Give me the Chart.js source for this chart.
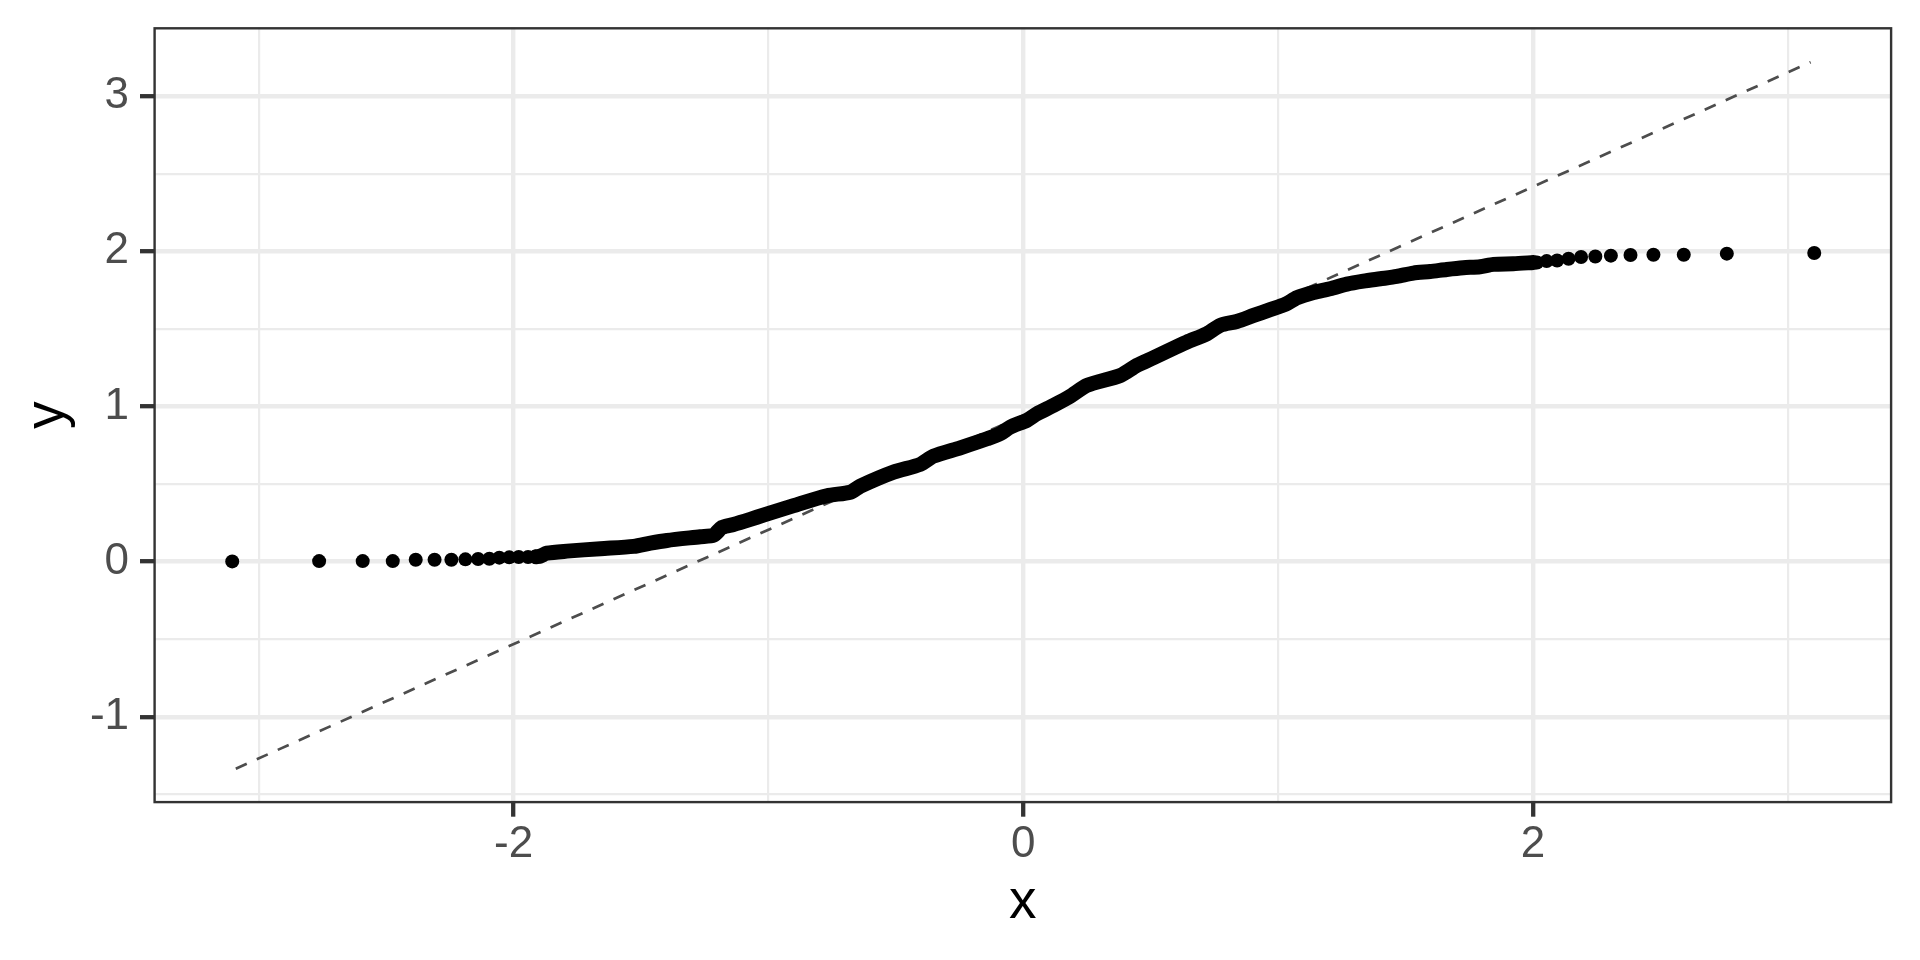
<!DOCTYPE html>
<html>
<head>
<meta charset="utf-8">
<script src="https://cdn.jsdelivr.net/npm/chart.js@4/dist/chart.umd.min.js"></script>
<style>
  html, body { margin: 0; padding: 0; background: #fff; }
  #wrap { width: 1920px; height: 960px; position: relative; }
</style>
</head>
<body>
<div id="wrap"><canvas id="qq"></canvas></div>
<script>
// === DATA ===
// lower tail: single dots
const lowTailX = [-3.104, -2.763, -2.592, -2.474, -2.384, -2.310, -2.244, -2.189, -2.139, -2.095, -2.056, -2.017, -1.980, -1.943, -1.912];
const lowTailY = [0.002, 0.004, 0.004, 0.004, 0.013, 0.013, 0.013, 0.015, 0.017, 0.019, 0.026, 0.028, 0.030, 0.030, 0.032];

// dense middle part, where the dots merge into one band
const bandX = [-1.912, -1.895, -1.869, -1.790, -1.659, -1.529, -1.463, -1.398, -1.267, -1.215, -1.182, -1.137, -1.071, -1.020,
  -0.901, -0.770, -0.679, -0.639, -0.509, -0.404, -0.352, -0.247, -0.142, -0.090, -0.051, 0.015, 0.054, 0.119, 0.184, 0.250,
  0.381, 0.446, 0.511, 0.577, 0.642, 0.721, 0.773, 0.838, 0.904, 0.969, 1.030, 1.074, 1.139, 1.204, 1.270, 1.335, 1.401,
  1.466, 1.531, 1.597, 1.662, 1.727, 1.793, 1.845, 1.923, 2.002];
const bandY = [0.032, 0.036, 0.055, 0.068, 0.084, 0.099, 0.120, 0.137, 0.161, 0.171, 0.221, 0.240, 0.273, 0.300,
  0.361, 0.425, 0.448, 0.487, 0.577, 0.627, 0.680, 0.734, 0.792, 0.825, 0.867, 0.912, 0.953, 1.007, 1.065, 1.136,
  1.200, 1.265, 1.314, 1.366, 1.415, 1.469, 1.523, 1.548, 1.587, 1.624, 1.660, 1.701, 1.735, 1.759, 1.789, 1.808, 1.823,
  1.838, 1.860, 1.870, 1.883, 1.894, 1.901, 1.916, 1.920, 1.928];

// upper tail: single dots
const highTailX = [2.016, 2.054, 2.095, 2.140, 2.189, 2.245, 2.306, 2.383, 2.473, 2.592, 2.761, 3.104];
const highTailY = [1.928, 1.937, 1.941, 1.952, 1.963, 1.967, 1.972, 1.976, 1.978, 1.978, 1.985, 1.989];

// dashed reference line (end points)
const refLineX = [-3.09, 3.09];
const refLineY = [-1.334, 3.219];

// axes
const xRange = [-3.411, 3.408];
const yRange = [-1.553, 3.441];
const xTicks = [-3, -2, -1, 0, 1, 2, 3];
const xMajor = [-2, 0, 2];
const yTicks = [-1.5, -1, -0.5, 0, 0.5, 1, 1.5, 2, 2.5, 3];
const yMajor = [-1, 0, 1, 2, 3];

const zip = (xs, ys) => xs.map((x, i) => ({ x, y: ys[i] }));

// === STYLE ===
const FONT = "'Liberation Sans', Arial, Helvetica, sans-serif";
const GRID = "#ebebeb";
const DARK = "#333333";

// full box round the panel (ggplot theme_bw)
const panelBorder = {
  id: "panelBorder",
  afterDraw(chart) {
    const { ctx, chartArea: a } = chart;
    ctx.save();
    ctx.strokeStyle = DARK;
    ctx.lineWidth = 2.4;
    ctx.strokeRect(a.left + 0.6, a.top + 0.6, a.right - a.left - 1.2, a.bottom - a.top - 1.2);
    ctx.restore();
  }
};

function axisOpts(range, ticks, major, isX) {
  return {
    type: "linear",
    min: range[0],
    max: range[1],
    afterBuildTicks: s => { s.ticks = ticks.map(v => ({ value: v })); },
    afterFit: s => {
      // fixed box sizes, no extra room for half labels at the ends
      if (isX) {
        s.height = 157.3;
        s.paddingLeft = 0;
        s.paddingRight = 0;
      } else {
        s.width = 154;
        s.paddingTop = 0;
        s.paddingBottom = 0;
      }
    },
    border: { display: false },
    grid: {
      color: GRID,
      lineWidth: c => (major.includes(c.tick && c.tick.value) ? 4.4 : 2.2),
      drawTicks: true,
      tickLength: 14,
      tickColor: c => (major.includes(c.tick && c.tick.value) ? DARK : "rgba(0,0,0,0)"),
      tickWidth: 4.3
    },
    ticks: {
      autoSkip: false,
      maxRotation: 0,
      padding: isX ? 2 : 11,
      color: "#4d4d4d",
      font: { family: FONT, size: 44 },
      callback: v => (major.includes(v) ? String(v) : "")
    },
    title: {
      display: true,
      text: isX ? "x" : "y",
      color: "#000000",
      font: { family: FONT, size: 55 },
      padding: isX ? { top: 0, bottom: 24 } : { top: 15, bottom: 0 }
    }
  };
}

// first dataset is drawn on top, so the dashed line goes last (under the points)
new Chart(document.getElementById("qq"), {
  type: "scatter",
  data: {
    datasets: [
      {
        label: "sample low",
        data: zip(lowTailX, lowTailY),
        pointRadius: 7,
        pointBorderWidth: 0,
        backgroundColor: "#000000"
      },
      {
        label: "sample band",
        data: zip(bandX, bandY),
        showLine: true,
        borderColor: "#000000",
        borderWidth: 15,
        borderCapStyle: "round",
        borderJoinStyle: "round",
        tension: 0.25,
        pointRadius: 0,
        fill: false
      },
      {
        label: "sample high",
        data: zip(highTailX, highTailY),
        pointRadius: 7,
        pointBorderWidth: 0,
        backgroundColor: "#000000"
      },
      {
        label: "qq line",
        data: zip(refLineX, refLineY),
        showLine: true,
        borderColor: "#4d4d4d",
        borderWidth: 2.7,
        borderDash: [12, 11],
        pointRadius: 0,
        fill: false
      }
    ]
  },
  options: {
    responsive: true,
    maintainAspectRatio: false,
    devicePixelRatio: 1,
    animation: false,
    layout: { padding: { top: 27.7, right: 28.3, left: 0, bottom: 0 } },
    plugins: {
      legend: { display: false },
      tooltip: { enabled: false }
    },
    scales: {
      x: axisOpts(xRange, xTicks, xMajor, true),
      y: axisOpts(yRange, yTicks, yMajor, false)
    }
  },
  plugins: [panelBorder]
});
</script>
</body>
</html>
